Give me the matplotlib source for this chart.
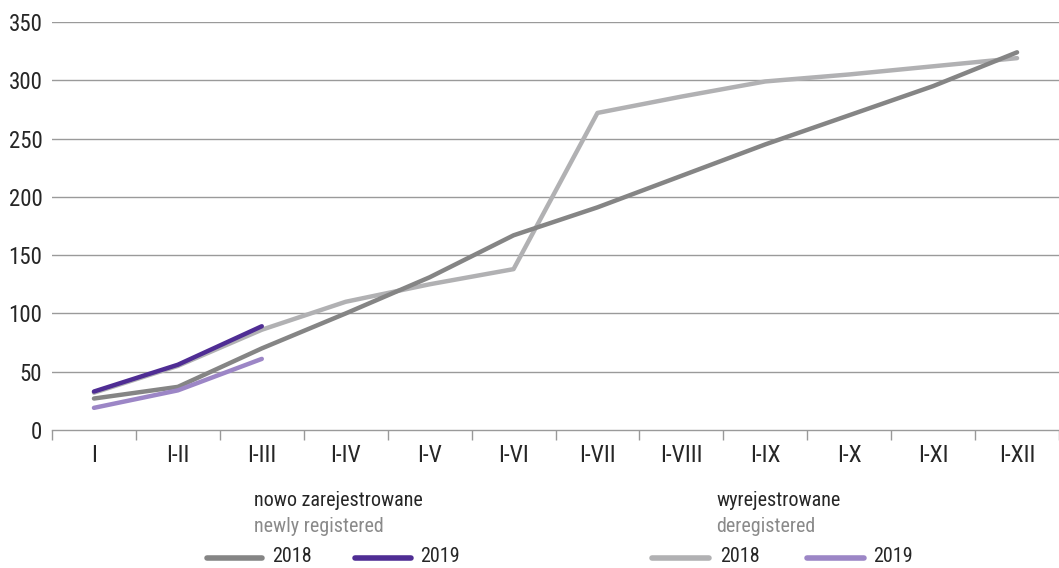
import matplotlib
matplotlib.use("Agg")
import matplotlib.pyplot as plt
from matplotlib.lines import Line2D
from matplotlib import font_manager as fm
import numpy as np

categories = ["I", "I-II", "I-III", "I-IV", "I-V", "I-VI", "I-VII", "I-VIII", "I-IX", "I-X", "I-XI", "I-XII"]
new_2018 = [27, 37, 70, 100, 131, 167, 191, 218, 245, 270, 295, 324]
new_2019 = [33, 56, 89]
dereg_2018 = [32, 55, 86, 110, 125, 138, 272, 286, 299, 305, 312, 319]
dereg_2019 = [19, 34, 61]
yticks = [0, 50, 100, 150, 200, 250, 300, 350]

# pick a condensed regular font if one is installed
chosen = None
cands = []
for f in fm.fontManager.ttflist:
    nm = f.name.lower()
    st = str(f.stretch).lower()
    fname = f.fname.lower()
    isc = ('condensed' in nm or 'narrow' in nm or 'condensed' in st or 'condensed' in fname or 'narrow' in fname)
    if isc and f.style == 'normal' and (f.weight in (400, 'normal', 'regular')) and 'mono' not in nm and 'cjk' not in nm and 'extra' not in fname and 'bold' not in fname and 'light' not in fname and 'italic' not in fname and 'semi' not in fname and 'medium' not in fname and 'thin' not in fname and 'black' not in fname:
        cands.append(f)
prio = ['roboto', 'open', 'noto', 'liberation', 'lato', 'dejavu']
for p in prio:
    for f in cands:
        if p in f.name.lower():
            chosen = f.fname
            break
    if chosen:
        break

if chosen:
    FP = lambda size: fm.FontProperties(fname=chosen, size=size)
    scale = 1.0
else:
    FP = lambda size: fm.FontProperties(family=['Roboto', 'DejaVu Sans'], size=size)
    scale = 0.88

c_new18 = "#858585"
c_new19 = "#4f2d94"
c_der18 = "#b1b1b3"
c_der19 = "#9c86c6"
text_c = "#262626"

fig = plt.figure(figsize=(10.59, 5.68), dpi=100)
ax = fig.add_axes([52/1059, 1-430/568, 1-52/1059, (430-22)/568])

x = np.arange(len(categories))
lw = 3.2
ax.plot(x, dereg_2018, color=c_der18, lw=lw, solid_capstyle='round', zorder=3)
ax.plot(x, new_2018, color=c_new18, lw=lw, solid_capstyle='round', zorder=4)
ax.plot(x[:len(new_2019)], new_2019, color=c_new19, lw=lw, solid_capstyle='round', zorder=5)
ax.plot(x[:len(dereg_2019)], dereg_2019, color=c_der19, lw=lw, solid_capstyle='round', zorder=6)

ax.set_ylim(0, 350)
ax.set_xlim(-0.5, 11.5 - 8/84.6)
ax.set_yticks(yticks)
ax.set_yticklabels([str(v) for v in yticks], color=text_c)
ax.set_xticks(x)
ax.set_xticklabels(categories, color=text_c)
for lab in ax.get_xticklabels():
    lab.set_fontproperties(FP(17 * scale))
for lab in ax.get_yticklabels():
    lab.set_fontproperties(FP(16.5 * scale))
ax.set_xticks(np.arange(-0.5, 12, 1), minor=True)
ax.tick_params(axis='x', which='major', length=0, pad=10)
ax.tick_params(axis='x', which='minor', length=7, width=1, color="#999999", direction='out')
ax.tick_params(axis='y', length=0, pad=7)
for yv in yticks[1:]:
    ax.axhline(yv, color="#9a9a9a", lw=1.0, zorder=1)
for s in ['top', 'right', 'left']:
    ax.spines[s].set_visible(False)
ax.spines['bottom'].set_color("#9a9a9a")
ax.spines['bottom'].set_linewidth(1.0)

def fx(px):
    return px / 1059
def fy(py):
    return 1 - py / 568

lf = 14.5 * scale
fig.text(fx(254), fy(500), "nowo zarejestrowane", fontproperties=FP(lf), color=text_c, va='center', ha='left')
fig.text(fx(254), fy(526), "newly registered", fontproperties=FP(lf), color="#8a8a8a", va='center', ha='left')
fig.text(fx(716), fy(500), "wyrejestrowane", fontproperties=FP(lf), color=text_c, va='center', ha='left')
fig.text(fx(716), fy(526), "deregistered", fontproperties=FP(lf), color="#8a8a8a", va='center', ha='left')

legend_items = [(207, 262, 272, c_new18, "2018"), (355, 411, 420, c_new19, "2019"),
                (652, 709, 720, c_der18, "2018"), (807, 864, 873, c_der19, "2019")]
for x0, x1, tx, col, lab in legend_items:
    fig.add_artist(Line2D([fx(x0), fx(x1)], [fy(558), fy(558)], color=col, lw=4,
                          solid_capstyle='round', transform=fig.transFigure))
    fig.text(fx(tx), fy(557), lab, fontproperties=FP(lf), color=text_c, va='center', ha='left')

fig.savefig("out.png", dpi=100)
